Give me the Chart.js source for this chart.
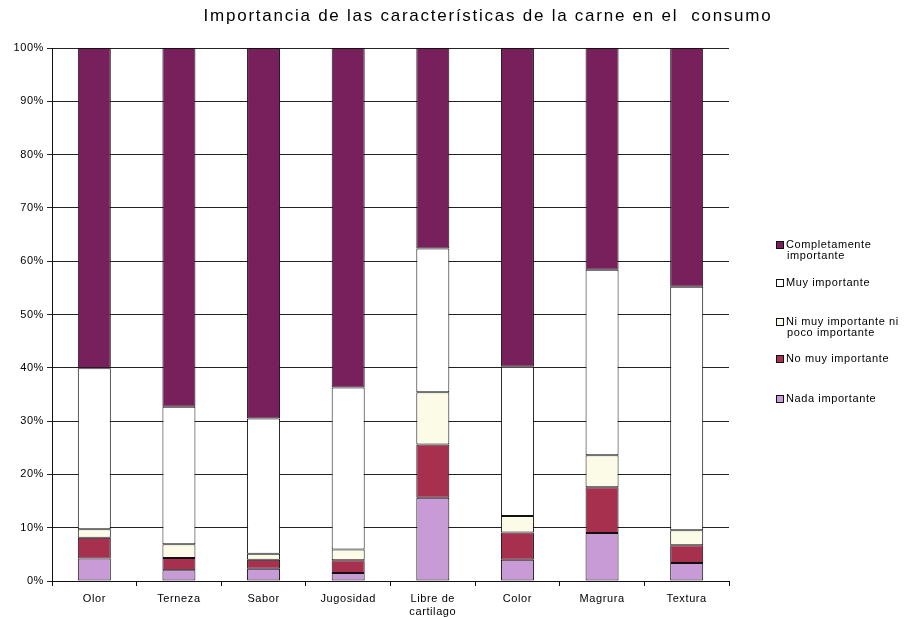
<!DOCTYPE html>
<html>
<head>
<meta charset="utf-8">
<script src="https://cdn.jsdelivr.net/npm/chart.js@4/dist/chart.umd.min.js"></script>
<style>
html,body{margin:0;padding:0;background:#fff;}
#wrap{width:911px;height:617px;position:relative;}
</style>
</head>
<body>
<div id="wrap"><canvas id="c" width="911" height="617"></canvas></div>
<script>
// ---- data ----
const categories = ['Olor', 'Terneza', 'Sabor', 'Jugosidad', ['Libre de', 'cartilago'], 'Color', 'Magrura', 'Textura'];
const nadaImportante      = [4.2, 2.0, 2.3, 1.5, 15.6, 4.0, 9.0, 3.4];
const noMuyImportante     = [3.9, 2.3, 1.7, 2.4, 10.0, 5.1, 8.6, 3.3];
const niMuyNiPoco         = [1.6, 2.6, 1.1, 2.0, 9.8, 3.1, 6.0, 2.8];
const muyImportante       = [30.2, 25.8, 25.4, 30.4, 27.0, 28.0, 34.8, 45.7];
const completamente       = [60.1, 67.3, 69.5, 63.7, 37.6, 59.8, 41.6, 44.8];
const yTicks = [0, 10, 20, 30, 40, 50, 60, 70, 80, 90, 100];
const titleText = 'Importancia de las características de la carne en el  consumo';
const seriesNames = ['Nada importante', 'No muy importante', 'Ni muy importante ni poco importante', 'Muy importante', 'Completamente importante'];
const legendLines = [
  ['Completamente', 'importante'],
  ['Muy importante'],
  ['Ni muy importante ni', 'poco importante'],
  ['No muy importante'],
  ['Nada importante']
];

// ---- styles ----
const colors = ['#c99bd6', '#a8304f', '#fbfbe8', '#ffffff', '#77205b'];
const FONT = '"Liberation Sans", Arial, sans-serif';

const seriesData = [nadaImportante, noMuyImportante, niMuyNiPoco, muyImportante, completamente];
const datasets = seriesData.map((d, i) => ({
  label: seriesNames[i],
  data: d,
  backgroundColor: colors[i],
  borderColor: '#111',
  borderWidth: 1,
  borderSkipped: false,
  categoryPercentage: 1.0,
  barPercentage: 0.39
}));

const spacingPlugin = {
  id: 'spacing',
  beforeDraw(chart) { chart.ctx.letterSpacing = '0.6px'; }
};

const titlePlugin = {
  id: 'customTitle',
  afterDraw(chart) {
    const ctx = chart.ctx;
    ctx.save();
    ctx.letterSpacing = '1.75px';
    ctx.fillStyle = '#000';
    ctx.font = '17px ' + FONT;
    ctx.textAlign = 'center';
    ctx.textBaseline = 'middle';
    ctx.fillText(titleText, 488, 16);
    ctx.restore();
  }
};

const legendPlugin = {
  id: 'customLegend',
  afterDraw(chart) {
    const ctx = chart.ctx;
    const ys = [245, 283, 322, 359, 399];
    const order = [4, 3, 2, 1, 0];
    ctx.save();
    ctx.letterSpacing = '0.6px';
    ctx.font = '11px ' + FONT;
    ctx.textBaseline = 'middle';
    ctx.textAlign = 'left';
    legendLines.forEach((lines, k) => {
      const ds = order[k];
      const y = ys[k];
      ctx.fillStyle = colors[ds];
      ctx.fillRect(776.5, y - 3.5, 7, 7);
      ctx.strokeStyle = '#111';
      ctx.lineWidth = 1;
      ctx.strokeRect(776.5, y - 3.5, 7, 7);
      ctx.fillStyle = '#000';
      lines.forEach((t, j) => {
        ctx.fillText(t, j === 0 ? 786 : 787, y + j * 11);
      });
    });
    ctx.restore();
  }
};

new Chart(document.getElementById('c'), {
  type: 'bar',
  data: { labels: categories, datasets: datasets },
  options: {
    responsive: false,
    devicePixelRatio: 1,
    animation: false,
    layout: { padding: { top: 48, right: 182, left: 0, bottom: 0 } },
    plugins: {
      legend: { display: false },
      title: { display: false },
      tooltip: { enabled: false }
    },
    scales: {
      x: {
        stacked: true,
        offset: true,
        grid: { drawOnChartArea: false, drawTicks: true, tickLength: 5, color: '#111', offset: true },
        border: { color: '#111', width: 1 },
        ticks: { color: '#000', font: { family: FONT, size: 11 }, padding: 6, maxRotation: 0, autoSkip: false },
        afterFit(s) { s.height = 36; }
      },
      y: {
        stacked: true,
        min: 0,
        max: 100,
        afterBuildTicks(s) { s.ticks = yTicks.map(v => ({ value: v })); },
        grid: { color: '#222', lineWidth: 1, tickLength: 5, drawTicks: true },
        border: { color: '#111', width: 1 },
        ticks: {
          color: '#000',
          font: { family: FONT, size: 11 },
          padding: 3,
          callback: v => v + '%'
        },
        afterFit(s) { s.width = 52; }
      }
    }
  },
  plugins: [spacingPlugin, titlePlugin, legendPlugin]
});
</script>
</body>
</html>
